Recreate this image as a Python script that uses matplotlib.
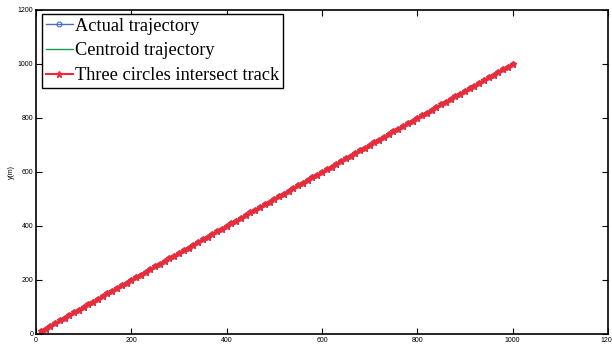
import matplotlib
matplotlib.use("Agg")
import matplotlib.pyplot as plt

# trajectory points (x, y in metres)
actual_x = [10, 20, 30, 40, 50, 60, 70, 80, 90, 100, 110, 120, 130, 140, 150, 160, 170, 180, 190, 200,
            210, 220, 230, 240, 250, 260, 270, 280, 290, 300, 310, 320, 330, 340, 350, 360, 370, 380, 390, 400,
            410, 420, 430, 440, 450, 460, 470, 480, 490, 500, 510, 520, 530, 540, 550, 560, 570, 580, 590, 600,
            610, 620, 630, 640, 650, 660, 670, 680, 690, 700, 710, 720, 730, 740, 750, 760, 770, 780, 790, 800,
            810, 820, 830, 840, 850, 860, 870, 880, 890, 900, 910, 920, 930, 940, 950, 960, 970, 980, 990, 1000]
actual_y = list(actual_x)
centroid_x = list(actual_x)
centroid_y = list(actual_y)
circles_x = list(actual_x)
circles_y = list(actual_y)

xticks = [0, 200, 400, 600, 800, 1000, 1200]
yticks = [0, 200, 400, 600, 800, 1000, 1200]

fig = plt.figure(figsize=(6.12, 3.47), dpi=100)
ax = fig.add_axes([0.0588, 0.0375, 0.9346, 0.9337])

ax.plot(actual_x, actual_y, color='#4a6fc0', marker='o', markersize=3.5,
        markerfacecolor='none', markeredgewidth=0.8, linewidth=1, label='Actual trajectory')
ax.plot(centroid_x, centroid_y, color='#1a9a4a', linewidth=1, label='Centroid trajectory')
ax.plot(circles_x, circles_y, color='#ee2a35', marker='*', markersize=4.5,
        linewidth=1.5, label='Three circles intersect track')

ax.set_xlim(0, 1200)
ax.set_ylim(0, 1200)
ax.set_xticks(xticks)
ax.set_yticks(yticks)
ax.tick_params(direction='in', top=True, right=True, length=4, width=0.8,
               labelsize=5, pad=2)
for lab in ax.get_xticklabels() + ax.get_yticklabels():
    lab.set_family('Liberation Sans')
for s in ax.spines.values():
    s.set_linewidth(1.2)
ax.set_ylabel('y(m)', fontsize=5, family='Liberation Sans', labelpad=2)

leg = ax.legend(loc='upper left', bbox_to_anchor=(0.0105, 0.988), borderaxespad=0,
                prop={'family': 'Liberation Serif', 'size': 13.2},
                fancybox=False, edgecolor='black', framealpha=1,
                borderpad=0.2, labelspacing=0.42, handlelength=1.5,
                handletextpad=0.1)
leg.get_frame().set_linewidth(1.0)

fig.savefig('out.png', dpi=100)
